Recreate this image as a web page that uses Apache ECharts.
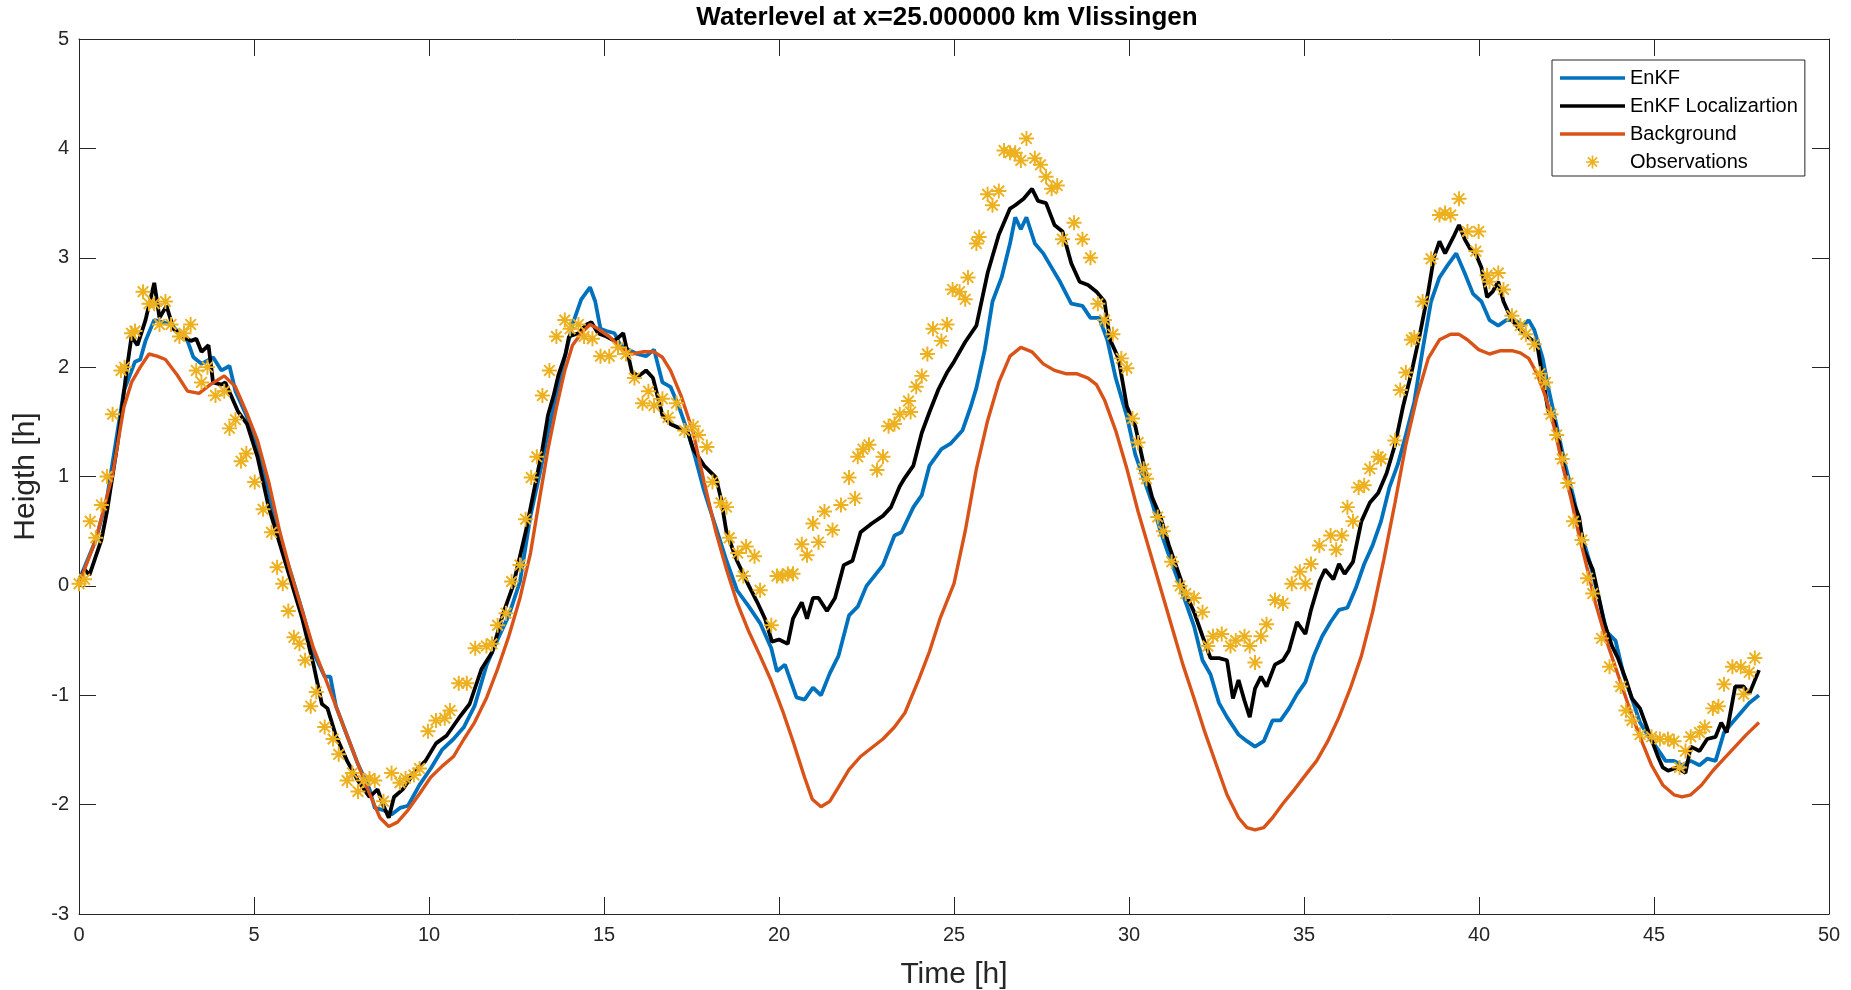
<!DOCTYPE html>
<html>
<head>
<meta charset="utf-8">
<script src="https://cdn.jsdelivr.net/npm/echarts@6/dist/echarts.min.js"></script>
<style>
  html, body { margin: 0; padding: 0; background: #ffffff; }
  #chart { width: 1851px; height: 990px; }
</style>
</head>
<body>
<div id="chart"></div>
<script>
// Water level at x = 25 km (Vlissingen): filter estimates, model background and observations.

const seriesNames = ['EnKF', 'EnKF Localizartion', 'Background', 'Observations'];
const xTicks = [0, 5, 10, 15, 20, 25, 30, 35, 40, 45, 50];
const yTicks = [-3, -2, -1, 0, 1, 2, 3, 4, 5];

// EnKF estimate
const enkfTime = [0,0.48,0.8,1.28,1.6,1.75,1.9,2.15,2.4,2.63,2.87,3.1,3.27,3.5,3.83,4.07,4.3,4.47,4.78,5.1,5.42,5.74,6.06,6.38,6.7,7.02,7.18,7.34,7.66,7.97,8.3,8.45,8.7,8.93,9.17,9.4,9.73,10.05,10.37,10.7,11.0,11.3,11.65,11.96,12.28,12.6,12.9,13.16,13.4,13.64,13.88,14.1,14.35,14.6,14.75,14.9,15.07,15.3,15.47,15.7,15.95,16.2,16.43,16.67,16.9,17.15,17.4,17.6,17.86,18.2,18.5,18.8,19.14,19.46,19.78,19.94,20.17,20.5,20.73,20.97,21.2,21.45,21.7,22.0,22.25,22.5,22.7,22.97,23.3,23.5,23.84,24.08,24.3,24.64,24.9,25.24,25.48,25.64,25.88,26.1,26.36,26.6,26.75,26.91,27.07,27.31,27.55,27.79,28.03,28.35,28.67,28.9,29.15,29.38,29.62,29.94,30.18,30.42,30.66,30.9,31.14,31.38,31.62,31.86,32.1,32.33,32.57,32.8,33.13,33.37,33.6,33.85,34.1,34.33,34.57,34.8,35.04,35.28,35.52,35.76,36.0,36.24,36.48,36.72,36.96,37.2,37.44,37.68,37.91,38.15,38.39,38.63,38.87,39.1,39.35,39.59,39.83,40.07,40.3,40.55,40.78,41.02,41.26,41.42,41.58,41.82,41.98,42.22,42.46,42.7,42.94,43.18,43.42,43.65,43.9,44.13,44.37,44.6,44.85,45.1,45.33,45.57,45.8,46.05,46.3,46.52,46.76,47.0,47.24,47.48,47.72,48.0];
const enkfLevel = [0.05,0.42,0.8,1.78,2.05,2.07,2.24,2.43,2.41,2.39,2.31,2.24,2.09,2.03,2.09,1.97,2.01,1.78,1.56,1.29,0.87,0.42,0.11,-0.23,-0.61,-0.83,-0.83,-1.1,-1.37,-1.63,-1.86,-2.03,-2.05,-2.09,-2.03,-2.01,-1.82,-1.67,-1.5,-1.4,-1.29,-1.1,-0.72,-0.49,-0.27,0.04,0.64,1.02,1.4,1.74,2.09,2.39,2.62,2.73,2.6,2.35,2.33,2.31,2.2,2.16,2.12,2.1,2.16,1.86,1.82,1.63,1.4,1.18,0.87,0.53,0.23,-0.04,-0.19,-0.34,-0.57,-0.78,-0.72,-1.02,-1.04,-0.93,-1.0,-0.8,-0.64,-0.27,-0.19,0.0,0.08,0.19,0.46,0.49,0.72,0.83,1.1,1.25,1.3,1.42,1.64,1.81,2.16,2.6,2.82,3.13,3.37,3.26,3.37,3.13,3.04,2.91,2.78,2.58,2.56,2.45,2.45,2.25,1.9,1.55,1.2,0.98,0.76,0.5,0.28,0.07,-0.15,-0.37,-0.68,-0.81,-1.07,-1.2,-1.36,-1.42,-1.47,-1.42,-1.23,-1.23,-1.12,-0.99,-0.88,-0.64,-0.46,-0.33,-0.22,-0.2,-0.02,0.2,0.37,0.59,0.9,1.11,1.38,1.68,2.16,2.6,2.82,2.93,3.04,2.86,2.67,2.6,2.43,2.38,2.43,2.43,2.38,2.43,2.34,2.08,1.81,1.46,1.11,0.81,0.46,0.2,-0.11,-0.42,-0.5,-0.81,-1.03,-1.25,-1.38,-1.49,-1.6,-1.6,-1.64,-1.6,-1.64,-1.58,-1.6,-1.34,-1.25,-1.16,-1.07,-1.0];

// EnKF with localization
const locTime = [0,0.16,0.3,0.64,0.8,1.1,1.36,1.5,1.67,1.9,2.15,2.3,2.5,2.7,2.95,3.2,3.35,3.5,3.7,3.83,4.07,4.18,4.55,4.8,5.1,5.42,5.74,6.06,6.38,6.7,6.94,7.1,7.34,7.66,7.97,8.3,8.53,8.7,8.85,9.0,9.25,9.57,9.9,10.2,10.5,10.85,11.16,11.5,11.8,12.1,12.4,12.76,13.0,13.24,13.4,13.56,13.7,13.9,14.0,14.27,14.5,14.64,14.83,15.07,15.3,15.55,15.8,16.0,16.2,16.4,16.67,16.9,17.1,17.4,17.55,17.86,18.2,18.34,18.5,18.8,19.14,19.38,19.6,19.8,20.0,20.25,20.4,20.65,20.8,20.97,21.13,21.37,21.6,21.85,22.1,22.33,22.65,22.97,23.2,23.45,23.6,23.84,24.08,24.3,24.56,24.8,25.0,25.32,25.64,25.96,26.28,26.6,26.75,26.99,27.23,27.4,27.63,27.87,28.1,28.35,28.59,28.83,29.07,29.3,29.46,29.7,29.94,30.18,30.42,30.66,30.9,31.14,31.38,31.62,31.86,32.1,32.33,32.57,32.8,32.97,33.13,33.3,33.45,33.6,33.77,33.93,34.17,34.4,34.57,34.8,35.04,35.2,35.44,35.6,35.84,36.0,36.16,36.4,36.64,36.88,37.12,37.36,37.6,37.83,38.07,38.31,38.55,38.71,38.87,39.03,39.27,39.43,39.59,39.75,39.9,40.07,40.23,40.39,40.55,40.7,40.94,41.18,41.42,41.66,41.82,41.98,42.14,42.3,42.46,42.7,42.86,43.0,43.25,43.4,43.57,43.8,43.97,44.2,44.37,44.6,44.85,45.1,45.25,45.4,45.65,45.9,46.05,46.3,46.52,46.76,46.92,47.08,47.32,47.56,47.72,48.0];
const locLevel = [0.04,0.15,0.1,0.42,0.68,1.3,1.97,2.28,2.2,2.43,2.77,2.45,2.56,2.35,2.28,2.24,2.26,2.14,2.2,1.86,1.84,1.86,1.59,1.48,1.18,0.72,0.38,0.04,-0.3,-0.72,-1.08,-1.12,-1.37,-1.6,-1.78,-1.93,-1.86,-2.01,-2.12,-1.93,-1.86,-1.71,-1.6,-1.44,-1.37,-1.21,-1.08,-0.76,-0.61,-0.27,0.0,0.49,0.87,1.25,1.56,1.74,1.93,2.12,2.28,2.31,2.39,2.41,2.31,2.28,2.24,2.31,1.95,1.92,1.97,1.9,1.56,1.48,1.45,1.4,1.25,1.1,0.99,0.8,0.49,0.23,0.0,-0.15,-0.3,-0.51,-0.49,-0.53,-0.3,-0.15,-0.3,-0.11,-0.11,-0.23,-0.11,0.19,0.23,0.49,0.57,0.64,0.72,0.91,0.99,1.1,1.4,1.59,1.8,1.95,2.05,2.23,2.38,2.86,3.21,3.45,3.48,3.54,3.63,3.52,3.5,3.3,3.24,2.95,2.78,2.75,2.69,2.6,2.25,2.08,1.64,1.46,1.11,0.81,0.63,0.37,0.15,-0.07,-0.24,-0.46,-0.66,-0.66,-0.68,-1.03,-0.86,-1.05,-1.2,-0.94,-0.83,-0.92,-0.72,-0.68,-0.59,-0.33,-0.44,-0.22,0.04,0.15,0.06,0.2,0.11,0.22,0.59,0.76,0.85,1.03,1.29,1.64,1.95,2.3,2.69,3.0,3.15,3.04,3.19,3.3,3.17,3.08,3.04,2.91,2.64,2.69,2.78,2.6,2.43,2.34,2.27,2.21,1.9,1.6,1.51,1.29,1.03,0.76,0.63,0.33,0.15,-0.07,-0.33,-0.55,-0.66,-0.86,-1.03,-1.12,-1.34,-1.55,-1.66,-1.69,-1.66,-1.71,-1.47,-1.51,-1.4,-1.38,-1.25,-1.34,-0.92,-0.92,-0.99,-0.77];

// Model background (no assimilation)
const bgTime = [0,0.48,0.96,1.28,1.5,1.75,2.0,2.23,2.47,2.8,3.1,3.43,3.75,4.15,4.47,4.78,5.1,5.42,5.74,6.06,6.38,6.7,7.02,7.34,7.66,7.97,8.3,8.6,8.85,9.1,9.4,9.73,10.05,10.37,10.7,11.0,11.3,11.65,11.96,12.28,12.6,12.9,13.16,13.4,13.64,13.88,14.1,14.35,14.6,14.83,15.15,15.47,15.8,16.1,16.43,16.67,16.9,17.2,17.55,17.86,18.2,18.5,18.8,19.14,19.46,19.78,20.1,20.4,20.73,20.95,21.2,21.45,21.7,22.0,22.33,22.65,22.97,23.3,23.6,24.0,24.3,24.6,25.0,25.32,25.64,25.96,26.28,26.6,26.91,27.23,27.55,27.87,28.19,28.5,28.83,29.07,29.3,29.62,29.94,30.26,30.58,30.9,31.22,31.54,31.86,32.17,32.5,32.8,33.13,33.37,33.6,33.85,34.1,34.4,34.73,35.04,35.36,35.68,36.0,36.32,36.64,36.96,37.28,37.6,37.91,38.23,38.55,38.87,39.19,39.43,39.67,39.99,40.3,40.62,40.94,41.18,41.42,41.66,41.9,42.14,42.38,42.62,42.86,43.1,43.33,43.65,43.97,44.3,44.6,44.93,45.25,45.57,45.8,46.05,46.36,46.68,47.0,47.32,47.64,48.0];
const bgLevel = [0.02,0.42,1.02,1.63,1.86,2.0,2.12,2.1,2.07,1.93,1.78,1.76,1.84,1.92,1.82,1.59,1.33,0.95,0.49,0.11,-0.23,-0.57,-0.83,-1.1,-1.37,-1.63,-1.9,-2.12,-2.2,-2.16,-2.05,-1.9,-1.75,-1.65,-1.56,-1.4,-1.25,-1.02,-0.76,-0.46,-0.11,0.3,0.8,1.25,1.63,1.97,2.2,2.31,2.39,2.35,2.28,2.18,2.12,2.14,2.14,2.09,1.97,1.74,1.4,0.95,0.49,0.15,-0.15,-0.42,-0.64,-0.87,-1.14,-1.42,-1.75,-1.95,-2.02,-1.97,-1.84,-1.68,-1.56,-1.48,-1.4,-1.29,-1.16,-0.85,-0.6,-0.3,0.02,0.5,1.07,1.51,1.86,2.1,2.18,2.14,2.03,1.97,1.94,1.94,1.9,1.84,1.7,1.42,1.07,0.68,0.33,-0.02,-0.37,-0.72,-1.03,-1.34,-1.64,-1.91,-2.12,-2.21,-2.23,-2.21,-2.12,-1.99,-1.86,-1.73,-1.6,-1.42,-1.2,-0.94,-0.64,-0.24,0.24,0.76,1.29,1.73,2.08,2.25,2.3,2.3,2.25,2.16,2.12,2.15,2.15,2.13,2.08,1.94,1.73,1.46,1.11,0.81,0.46,0.15,-0.16,-0.51,-0.81,-1.12,-1.38,-1.64,-1.82,-1.91,-1.93,-1.91,-1.82,-1.69,-1.58,-1.47,-1.36,-1.25];

// Tide gauge observations
const obsTime = [0.0,0.16,0.32,0.48,0.64,0.8,0.96,1.2,1.3,1.5,1.6,1.83,2.0,2.15,2.3,2.47,2.63,2.87,3.0,3.19,3.35,3.5,3.67,3.9,4.15,4.3,4.47,4.63,4.78,5.02,5.26,5.5,5.66,5.82,5.98,6.14,6.3,6.46,6.62,6.78,7.02,7.26,7.42,7.66,7.81,7.97,8.13,8.3,8.45,8.7,8.93,9.17,9.33,9.57,9.73,9.97,10.2,10.45,10.6,10.85,11.08,11.32,11.64,11.8,11.96,12.2,12.36,12.6,12.76,12.92,13.08,13.24,13.44,13.64,13.88,14.03,14.27,14.43,14.67,14.9,15.15,15.4,15.63,15.87,16.1,16.27,16.43,16.67,16.83,17.07,17.3,17.55,17.7,17.94,18.1,18.34,18.5,18.58,18.82,18.98,19.06,19.3,19.46,19.78,19.94,20.1,20.25,20.4,20.65,20.8,20.97,21.13,21.3,21.53,21.77,22.0,22.17,22.25,22.4,22.57,22.8,22.97,23.13,23.3,23.45,23.7,23.76,23.92,24.08,24.24,24.4,24.64,24.8,24.96,25.16,25.32,25.4,25.64,25.72,25.96,26.1,26.28,26.43,26.6,26.75,26.91,27.07,27.31,27.47,27.63,27.79,27.95,28.1,28.43,28.67,28.9,29.11,29.3,29.54,29.78,29.94,30.1,30.26,30.42,30.5,30.82,30.98,31.22,31.46,31.62,31.86,32.1,32.25,32.4,32.65,32.9,33.05,33.3,33.45,33.6,33.77,33.93,34.17,34.4,34.65,34.88,35.04,35.2,35.44,35.76,35.92,36.08,36.24,36.4,36.56,36.72,36.88,37.12,37.2,37.6,37.75,37.91,38.07,38.15,38.39,38.63,38.87,39.03,39.19,39.43,39.67,39.91,39.99,40.23,40.3,40.55,40.7,40.94,41.18,41.34,41.58,41.74,41.9,42.06,42.22,42.38,42.54,42.7,42.94,43.1,43.25,43.5,43.73,44.05,44.2,44.37,44.6,44.93,45.17,45.4,45.57,45.73,45.9,46.05,46.3,46.45,46.68,46.84,47.0,47.24,47.48,47.56,47.72,47.88];
const obsLevel = [0.02,0.06,0.59,0.44,0.74,1.0,1.57,1.97,2.0,2.31,2.33,2.69,2.58,2.58,2.39,2.6,2.39,2.28,2.31,2.39,1.97,1.86,2.0,1.74,1.78,1.44,1.52,1.14,1.21,0.95,0.7,0.49,0.17,0.02,-0.23,-0.47,-0.53,-0.68,-1.1,-0.97,-1.29,-1.4,-1.54,-1.78,-1.71,-1.88,-1.78,-1.76,-1.78,-1.97,-1.71,-1.8,-1.76,-1.73,-1.67,-1.33,-1.23,-1.21,-1.14,-0.89,-0.89,-0.57,-0.55,-0.53,-0.36,-0.25,0.04,0.19,0.61,0.99,1.18,1.74,1.97,2.28,2.43,2.35,2.39,2.28,2.26,2.1,2.1,2.18,2.12,1.9,1.67,1.78,1.65,1.71,1.54,1.67,1.42,1.46,1.38,1.27,0.95,0.76,0.72,0.44,0.3,0.09,0.36,0.27,-0.04,-0.36,0.09,0.09,0.11,0.11,0.38,0.28,0.57,0.4,0.68,0.51,0.74,0.99,0.8,1.18,1.25,1.29,1.06,1.18,1.46,1.48,1.57,1.69,1.59,1.82,1.92,2.12,2.35,2.24,2.39,2.71,2.69,2.62,2.82,3.13,3.19,3.58,3.48,3.61,3.98,3.96,3.96,3.89,4.09,3.91,3.85,3.74,3.63,3.66,3.17,3.32,3.17,3.0,2.58,2.43,2.3,2.08,1.99,1.53,1.31,1.07,0.98,0.63,0.5,0.22,0.0,-0.07,-0.11,-0.24,-0.55,-0.46,-0.44,-0.55,-0.5,-0.46,-0.55,-0.7,-0.46,-0.35,-0.13,-0.16,0.02,0.13,0.02,0.2,0.37,0.46,0.33,0.46,0.72,0.59,0.9,0.92,1.07,1.18,1.16,1.33,1.79,1.95,2.25,2.27,2.6,2.99,3.39,3.41,3.39,3.54,3.24,3.06,3.24,2.84,2.78,2.86,2.71,2.47,2.38,2.3,2.21,1.94,1.86,1.57,1.38,1.16,0.94,0.59,0.42,0.07,-0.07,-0.48,-0.74,-0.92,-1.14,-1.23,-1.36,-1.38,-1.4,-1.4,-1.42,-1.66,-1.51,-1.38,-1.34,-1.29,-1.12,-1.1,-0.9,-0.74,-0.74,-0.99,-0.79,-0.66];

function pairs(t, v) { return t.map((x, i) => [x, v[i]]); }

// Eight-armed asterisk marker built from four thin bars
const STAR = 'path://M0 8.7L20 8.7L20 11.3L0 11.3Z M8.7 0L11.3 0L11.3 20L8.7 20Z ' +
  'M3.85 2.01L17.99 16.15L16.15 17.99L2.01 3.85Z M16.15 2.01L17.99 3.85L3.85 17.99L2.01 16.15Z';
// Legend line sample (kept in proportion by the legend)
const LINE_ICON = 'path://M0 0L65 0L65 3.6L0 3.6Z';

const FONT = '"Liberation Sans", Arial, Helvetica, sans-serif';
const AX = '#262626';

const chart = echarts.init(document.getElementById('chart'), null, { renderer: 'canvas' });

const boxAxisX = (pos, main) => ({
  type: 'value', position: pos, min: xTicks[0], max: xTicks[xTicks.length - 1], interval: 5,
  axisLine: { show: true, onZero: false, lineStyle: { color: AX, width: 1 } },
  axisTick: { show: true, inside: true, length: 17, lineStyle: { color: AX, width: 1 } },
  axisLabel: { show: main, margin: 11, color: AX, fontSize: 20, fontFamily: FONT },
  splitLine: { show: false },
  name: main ? 'Time [h]' : '', nameLocation: 'middle', nameGap: 46,
  nameTextStyle: { fontSize: 30, color: AX, fontFamily: FONT }
});
const boxAxisY = (pos, main) => ({
  type: 'value', position: pos, min: yTicks[0], max: yTicks[yTicks.length - 1], interval: 1,
  axisLine: { show: true, onZero: false, lineStyle: { color: AX, width: 1 } },
  axisTick: { show: true, inside: true, length: 17, lineStyle: { color: AX, width: 1 } },
  axisLabel: { show: main, margin: 10, color: AX, fontSize: 20, fontFamily: FONT },
  splitLine: { show: false },
  name: main ? 'Heigth [h]' : '', nameLocation: 'middle', nameGap: 36, nameRotate: 90,
  nameTextStyle: { fontSize: 30, color: AX, fontFamily: FONT }
});

chart.setOption({
  animation: false,
  backgroundColor: '#ffffff',
  title: {
    text: 'Waterlevel at x=25.000000 km Vlissingen',
    left: 947, top: 5, textAlign: 'center', padding: 0,
    textStyle: { fontSize: 26, fontWeight: 'bold', color: '#000000', fontFamily: FONT }
  },
  grid: { left: 79, right: 22, top: 39, bottom: 76, containLabel: false, outerBoundsMode: 'none' },
  xAxis: [boxAxisX('bottom', true), boxAxisX('top', false)],
  yAxis: [boxAxisY('left', true), boxAxisY('right', false)],
  legend: {
    orient: 'vertical', left: 1552, top: 60, padding: [8, 7, 4, 8],
    itemGap: 8, itemWidth: 65, itemHeight: 13, symbolKeepAspect: true,
    backgroundColor: '#ffffff', borderColor: AX, borderWidth: 1,
    textStyle: { fontSize: 20, lineHeight: 20, color: '#000000', fontFamily: FONT },
    data: [
      { name: seriesNames[0], icon: LINE_ICON },
      { name: seriesNames[1], icon: LINE_ICON },
      { name: seriesNames[2], icon: LINE_ICON },
      { name: seriesNames[3], icon: STAR }
    ]
  },
  series: [
    { name: seriesNames[0], type: 'line', data: pairs(enkfTime, enkfLevel), symbol: 'none',
      lineStyle: { color: '#0072BD', width: 3.8 }, itemStyle: { color: '#0072BD' }, z: 2 },
    { name: seriesNames[1], type: 'line', data: pairs(locTime, locLevel), symbol: 'none',
      lineStyle: { color: '#000000', width: 3.8 }, itemStyle: { color: '#000000' }, z: 3 },
    { name: seriesNames[2], type: 'line', data: pairs(bgTime, bgLevel), symbol: 'none',
      lineStyle: { color: '#D95319', width: 3.4 }, itemStyle: { color: '#D95319' }, z: 4 },
    { name: seriesNames[3], type: 'scatter', data: pairs(obsTime, obsLevel),
      symbol: STAR, symbolSize: 15, itemStyle: { color: '#EDB120', opacity: 1 }, z: 5 }
  ]
});
</script>
</body>
</html>
